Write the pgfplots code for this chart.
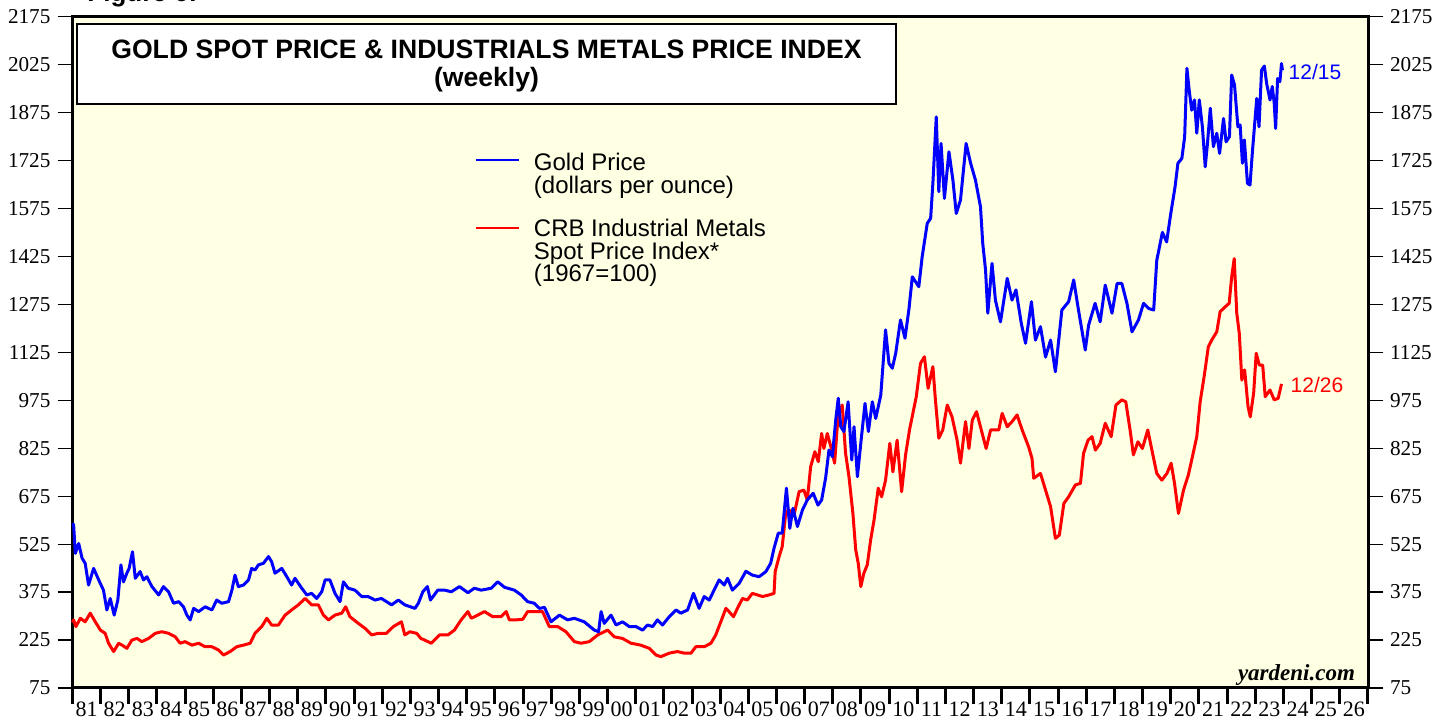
\documentclass[border=0pt]{standalone}
\usepackage{fontspec}
\setmainfont{Liberation Serif}
\newfontfamily\arial{Liberation Sans}
\usepackage{pgfplots}
\pgfplotsset{compat=1.18}
\definecolor{cream}{RGB}{255,255,228}

\pgfplotsset{
  common/.style={
    scale only axis, width=647.75pt, height=335.75pt,
    xmin=1981, xmax=2027, ymin=75, ymax=2175,
    ytick={75,225,375,525,675,825,975,1125,1275,1425,1575,1725,1875,2025,2175},
    yticklabels={75,225,375,525,675,825,975,1125,1275,1425,1575,1725,1875,2025,2175},
    tick align=outside,
    major tick length=7.5pt,
    yticklabel style={font=\fontsize{10.6}{12}\selectfont},
    every y tick/.append style={line width=0.6pt, black},
  }
}

\begin{document}
\begin{tikzpicture}
\begin{axis}[
  common,
  name=main,
  clip=false,
  axis background/.style={fill=cream},
  axis line style={line width=1.5pt},
  ytick pos=both,
  yticklabel pos=left,
  xtick={1981.5,1982.5,1983.5,1984.5,1985.5,1986.5,1987.5,1988.5,1989.5,1990.5,1991.5,1992.5,1993.5,1994.5,1995.5,1996.5,1997.5,1998.5,1999.5,2000.5,2001.5,2002.5,2003.5,2004.5,2005.5,2006.5,2007.5,2008.5,2009.5,2010.5,2011.5,2012.5,2013.5,2014.5,2015.5,2016.5,2017.5,2018.5,2019.5,2020.5,2021.5,2022.5,2023.5,2024.5,2025.5,2026.5},
  xticklabels={81,82,83,84,85,86,87,88,89,90,91,92,93,94,95,96,97,98,99,00,01,02,03,04,05,06,07,08,09,10,11,12,13,14,15,16,17,18,19,20,21,22,23,24,25,26},
  minor xtick={1981,1982,...,2027},
  xtick pos=bottom,
  every major x tick/.append style={draw=none},
  every minor x tick/.append style={line width=1.5pt, black},
  minor tick length=8pt,
  xticklabel style={font=\fontsize{11}{12}\selectfont, yshift=4pt},
]
\draw[fill=white, line width=0.8pt] (axis cs:1981.16,2151.5) rectangle (axis cs:2010.24,1901.3);
\node[anchor=base, font=\arial\bfseries\fontsize{13.3}{15}\selectfont] at (axis cs:1995.70,2045) {GOLD SPOT PRICE \& INDUSTRIALS METALS PRICE INDEX};
\node[anchor=base, font=\arial\bfseries\fontsize{13.3}{15}\selectfont] at (axis cs:1995.70,1954.5) {(weekly)};

\draw[blue, line width=1pt] (axis cs:1995.31,1726) -- (axis cs:1996.87,1726);
\draw[red, line width=1pt] (axis cs:1995.31,1513.6) -- (axis cs:1996.87,1513.6);
\begin{scope}[every node/.style={anchor=base west, inner sep=0, font=\arial\fontsize{12}{13}\selectfont}]
\node at (axis cs:1997.37,1693) {Gold Price};
\node at (axis cs:1997.37,1623) {(dollars per ounce)};
\node at (axis cs:1997.37,1486) {CRB Industrial Metals};
\node at (axis cs:1997.37,1413.5) {Spot Price Index*};
\node at (axis cs:1997.37,1344.7) {(1967=100)};
\end{scope}

\addplot[red, line width=1.5pt, line join=round] coordinates {
(1981.00,280) (1981.04,288) (1981.12,267) (1981.28,293) (1981.45,282) (1981.63,309) (1981.81,282) (1981.99,256)
(1982.16,246) (1982.28,215) (1982.46,189) (1982.64,215) (1982.76,209) (1982.93,199) (1983.11,225) (1983.29,230)
(1983.46,220) (1983.70,230) (1983.94,246) (1984.17,251) (1984.41,246) (1984.65,235) (1984.82,215) (1985.00,220)
(1985.24,209) (1985.48,215) (1985.71,204) (1985.95,204) (1986.18,194) (1986.36,178) (1986.60,189) (1986.83,204)
(1987.07,209) (1987.31,215) (1987.48,246) (1987.72,267) (1987.90,293) (1988.07,272) (1988.31,272) (1988.55,303)
(1988.78,319) (1989.02,335) (1989.26,355) (1989.49,335) (1989.73,335) (1989.91,303) (1990.09,288) (1990.32,303)
(1990.56,309) (1990.70,329) (1990.85,298) (1991.15,277) (1991.38,262) (1991.62,241) (1991.86,246) (1992.15,246)
(1992.39,267) (1992.68,282) (1992.80,241) (1992.98,251) (1993.22,246) (1993.37,230) (1993.50,225) (1993.74,215)
(1994.03,241) (1994.33,241) (1994.56,256) (1994.80,288) (1995.04,314) (1995.16,293) (1995.39,303) (1995.63,314)
(1995.92,298) (1996.22,298) (1996.40,314) (1996.51,288) (1996.75,288) (1996.99,290) (1997.16,314) (1997.40,314)
(1997.69,314) (1997.93,267) (1998.23,267) (1998.52,251) (1998.82,220) (1999.06,215) (1999.35,220) (1999.65,241)
(2000.00,256) (2000.24,235) (2000.53,230) (2000.83,215) (2001.18,209) (2001.48,199) (2001.72,178) (2001.89,173)
(2002.19,184) (2002.48,189) (2002.72,184) (2002.96,184) (2003.13,204) (2003.43,204) (2003.67,215) (2003.84,241)
(2004.02,282) (2004.20,324) (2004.31,314) (2004.47,298) (2004.61,324) (2004.79,355) (2004.96,350) (2005.14,371)
(2005.32,366) (2005.50,361) (2005.73,366) (2005.91,371) (2005.95,439) (2006.09,486) (2006.20,517) (2006.33,626)
(2006.44,632) (2006.62,616) (2006.80,689) (2006.97,694) (2007.09,663) (2007.21,767) (2007.36,814) (2007.48,783)
(2007.60,871) (2007.68,824) (2007.80,871) (2007.96,819) (2008.06,778) (2008.18,923) (2008.33,960) (2008.45,809)
(2008.57,736) (2008.71,621) (2008.81,507) (2008.90,465) (2008.99,392) (2009.10,434) (2009.22,460) (2009.34,538)
(2009.46,600) (2009.61,700) (2009.73,673) (2009.87,725) (2010.02,840) (2010.13,751) (2010.28,850) (2010.44,689)
(2010.58,804) (2010.72,882) (2010.84,934) (2010.96,986) (2011.11,1090) (2011.25,1111) (2011.38,1012) (2011.55,1080)
(2011.64,976) (2011.76,856) (2011.90,882) (2012.06,960) (2012.23,923) (2012.41,850) (2012.53,778) (2012.71,908)
(2012.83,824) (2012.95,913) (2013.10,939) (2013.24,892) (2013.44,824) (2013.60,882) (2013.89,882) (2014.01,934)
(2014.19,892) (2014.36,908) (2014.54,929) (2014.72,882) (2014.95,829) (2015.07,793) (2015.13,731) (2015.37,746)
(2015.55,694) (2015.73,642) (2015.90,543) (2016.04,553) (2016.20,652) (2016.37,673) (2016.61,710) (2016.79,715)
(2016.90,809) (2017.06,850) (2017.20,861) (2017.32,819) (2017.49,840) (2017.67,903) (2017.88,861) (2018.05,960)
(2018.26,976) (2018.40,970) (2018.56,877) (2018.67,804) (2018.83,845) (2018.99,824) (2019.18,882) (2019.35,809)
(2019.50,746) (2019.68,725) (2019.86,746) (2020.01,778) (2020.13,715) (2020.27,621) (2020.45,694) (2020.62,741)
(2020.74,788) (2020.92,861) (2021.04,970) (2021.19,1054) (2021.33,1142) (2021.45,1163) (2021.63,1189) (2021.75,1252)
(2021.93,1267) (2022.07,1278) (2022.16,1361) (2022.25,1418) (2022.34,1247) (2022.43,1184) (2022.52,1038) (2022.62,1070)
(2022.74,955) (2022.82,923) (2022.94,997) (2023.03,1122) (2023.14,1085) (2023.26,1085) (2023.35,986) (2023.52,1007)
(2023.67,976) (2023.81,981) (2023.93,1026)
};

\addplot[blue, line width=1.5pt, line join=round] coordinates {
(1981.00,590) (1981.04,585) (1981.10,496) (1981.22,527) (1981.34,481) (1981.45,465) (1981.57,397) (1981.75,449)
(1981.93,413) (1982.10,381) (1982.22,319) (1982.34,355) (1982.48,303) (1982.61,350) (1982.72,460) (1982.81,407)
(1982.93,434) (1983.01,449) (1983.13,501) (1983.23,418) (1983.40,439) (1983.52,413) (1983.64,423) (1983.82,392)
(1984.06,366) (1984.23,392) (1984.41,376) (1984.59,340) (1984.77,345) (1984.94,329) (1985.06,303) (1985.18,288)
(1985.30,324) (1985.48,314) (1985.71,329) (1985.95,319) (1986.12,350) (1986.30,340) (1986.54,345) (1986.66,381)
(1986.77,428) (1986.89,392) (1987.07,397) (1987.25,413) (1987.36,449) (1987.48,444) (1987.60,460) (1987.78,465)
(1987.96,486) (1988.07,470) (1988.19,434) (1988.43,449) (1988.61,423) (1988.78,397) (1988.90,418) (1989.14,387)
(1989.32,366) (1989.49,371) (1989.67,355) (1989.85,376) (1989.97,413) (1990.14,413) (1990.32,371) (1990.50,345)
(1990.62,407) (1990.79,387) (1991.03,381) (1991.27,361) (1991.50,361) (1991.74,350) (1991.97,355) (1992.33,335)
(1992.57,350) (1992.80,335) (1993.16,324) (1993.28,340) (1993.44,376) (1993.60,392) (1993.71,350) (1993.97,381)
(1994.21,381) (1994.45,376) (1994.74,392) (1995.04,373) (1995.27,387) (1995.51,381) (1995.87,387) (1996.10,407)
(1996.34,390) (1996.69,381) (1996.93,366) (1997.16,345) (1997.40,340) (1997.58,324) (1997.76,327) (1997.99,282)
(1998.29,303) (1998.58,288) (1998.82,293) (1999.17,282) (1999.53,256) (1999.68,251) (1999.77,314) (1999.88,277)
(2000.12,303) (2000.30,272) (2000.53,282) (2000.77,267) (2001.01,267) (2001.24,256) (2001.42,272) (2001.60,267)
(2001.77,288) (2001.95,272) (2002.19,298) (2002.43,319) (2002.60,309) (2002.84,319) (2003.05,371) (2003.25,324)
(2003.43,361) (2003.61,350) (2003.78,381) (2003.96,413) (2004.14,397) (2004.26,418) (2004.43,381) (2004.67,402)
(2004.91,440) (2005.14,428) (2005.38,423) (2005.62,439) (2005.79,465) (2005.91,512) (2006.06,559) (2006.20,559)
(2006.35,700) (2006.47,574) (2006.58,637) (2006.74,580) (2006.92,632) (2007.09,663) (2007.30,684) (2007.47,647)
(2007.60,663) (2007.74,731) (2007.86,819) (2007.98,798) (2008.10,913) (2008.19,981) (2008.28,892) (2008.39,877)
(2008.54,970) (2008.67,788) (2008.75,892) (2008.87,736) (2008.99,840) (2009.14,965) (2009.26,877) (2009.40,970)
(2009.52,918) (2009.70,991) (2009.87,1195) (2009.99,1090) (2010.11,1075) (2010.23,1122) (2010.40,1226) (2010.56,1169)
(2010.70,1260) (2010.82,1361) (2011.05,1330) (2011.17,1424) (2011.35,1528) (2011.47,1544) (2011.55,1653) (2011.67,1861)
(2011.76,1627) (2011.84,1778) (2011.96,1606) (2012.12,1752) (2012.26,1664) (2012.38,1559) (2012.53,1601) (2012.73,1778)
(2012.89,1716) (2013.06,1664) (2013.24,1580) (2013.32,1466) (2013.42,1382) (2013.50,1247) (2013.65,1403) (2013.77,1288)
(2013.95,1220) (2014.19,1356) (2014.36,1288) (2014.50,1320) (2014.69,1215) (2014.84,1153) (2015.05,1283) (2015.19,1163)
(2015.37,1205) (2015.55,1110) (2015.73,1163) (2015.90,1064) (2016.13,1257) (2016.37,1283) (2016.55,1351) (2016.72,1257)
(2016.96,1132) (2017.08,1210) (2017.31,1278) (2017.49,1220) (2017.67,1335) (2017.91,1247) (2018.09,1340) (2018.26,1340)
(2018.44,1278) (2018.62,1189) (2018.85,1226) (2019.03,1278) (2019.21,1262) (2019.39,1257) (2019.50,1413) (2019.70,1500)
(2019.85,1470) (2019.98,1549) (2020.15,1643) (2020.25,1716) (2020.39,1731) (2020.49,1799) (2020.57,2013) (2020.65,1945)
(2020.74,1882) (2020.84,1914) (2020.92,1810) (2021.01,1914) (2021.12,1830) (2021.22,1705) (2021.30,1778) (2021.40,1888)
(2021.51,1768) (2021.63,1810) (2021.73,1747) (2021.87,1856) (2021.96,1783) (2022.08,1799) (2022.16,1992) (2022.26,1961)
(2022.38,1830) (2022.46,1836) (2022.54,1716) (2022.61,1789) (2022.72,1653) (2022.81,1648) (2022.90,1757) (2023.05,1919)
(2023.13,1830) (2023.22,2007) (2023.32,2020) (2023.40,1966) (2023.52,1914) (2023.60,1956) (2023.67,1904) (2023.72,1825)
(2023.79,1981) (2023.87,1971) (2023.93,2028) (2023.96,2007)
};

\node[anchor=west, inner sep=0, text=blue, font=\arial\fontsize{10.5}{12}\selectfont] at (axis cs:2024.17,2001) {12/15};
\node[anchor=west, inner sep=0, text=red, font=\arial\fontsize{10.5}{12}\selectfont] at (axis cs:2024.24,1022) {12/26};
\node[anchor=base east, inner sep=0, font=\bfseries\itshape\fontsize{11.5}{13}\selectfont] at (axis cs:2026.55,97) {yardeni.com};
\end{axis}

\begin{axis}[
  common,
  hide x axis,
  axis y line*=right,
  axis line style={line width=1.5pt},
  ytick pos=right,
  yticklabel pos=right,
]
\end{axis}

\node[anchor=base west, inner sep=0, font=\arial\bfseries\fontsize{13}{15}\selectfont] at ([xshift=7.25pt,yshift=7.25pt]main.north west) {Figure 6:};

\pgfresetboundingbox
\path[use as bounding box] ([xshift=-36.25pt,yshift=-16.5pt]main.south west) rectangle ([xshift=41pt,yshift=8.25pt]main.north east);
\end{tikzpicture}
\end{document}
